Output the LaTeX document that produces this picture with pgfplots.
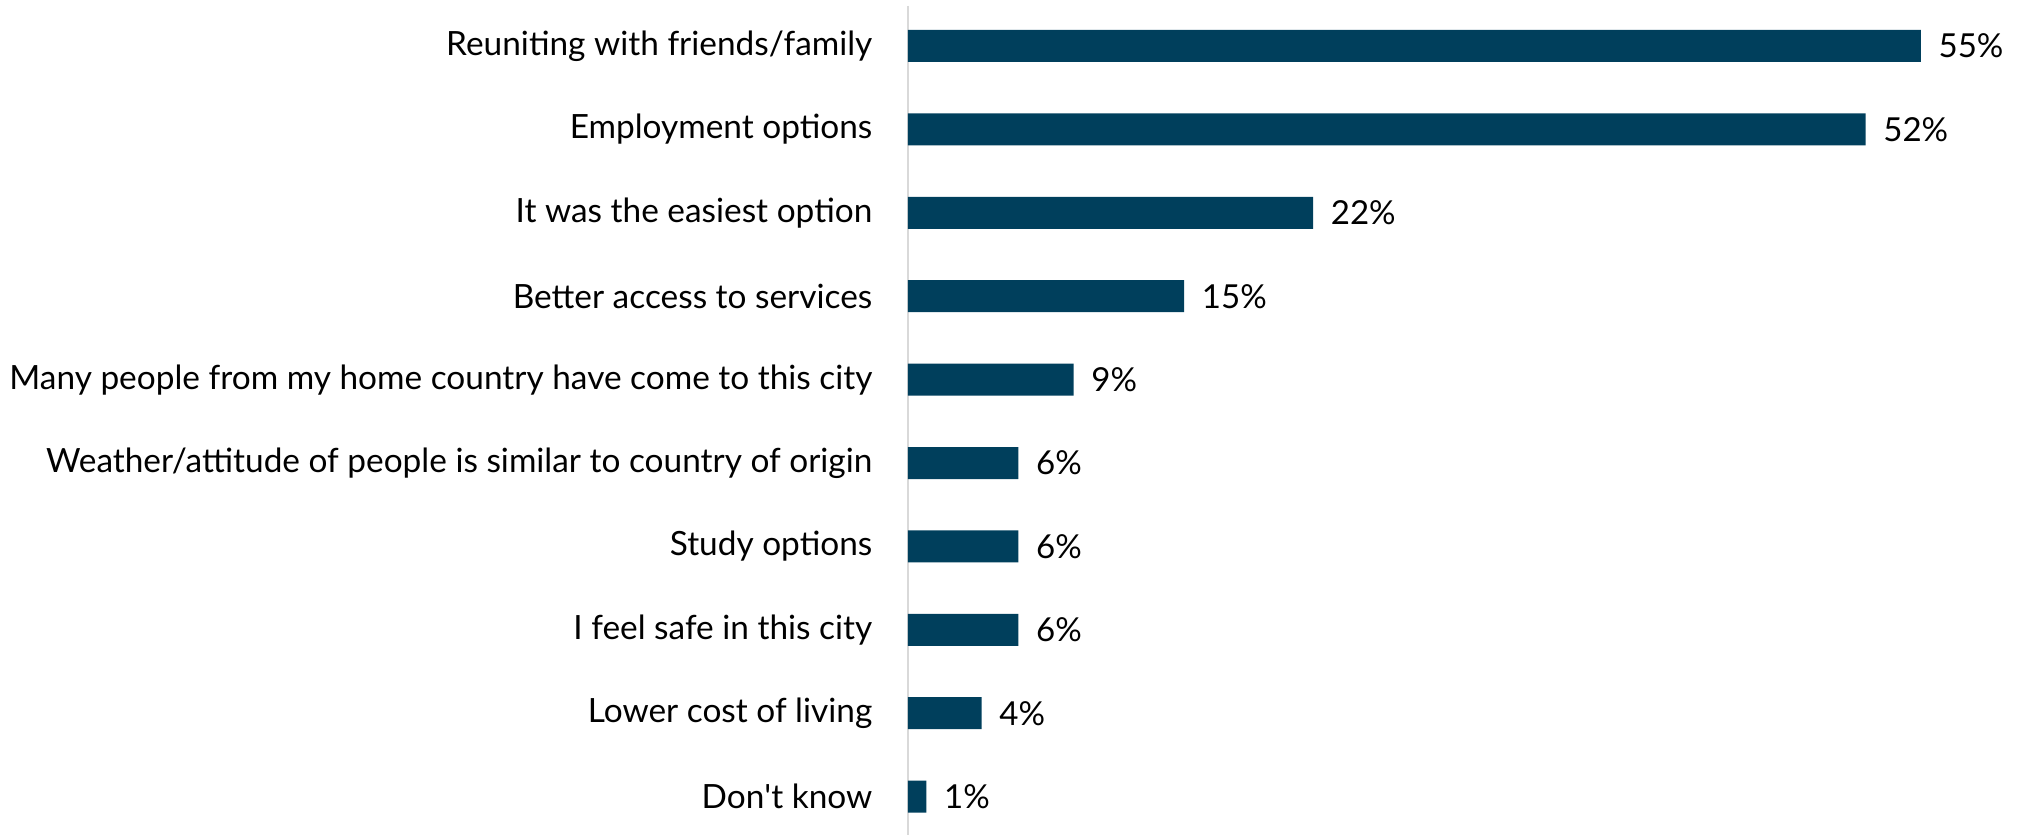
\documentclass[border=0pt]{standalone}
\usepackage{pgfplots}
\pgfplotsset{compat=1.18}
\usepackage{fontspec}
\setmainfont{Lato}
\definecolor{barblue}{HTML}{003F5C}
\definecolor{axisgrey}{HTML}{D9D9D9}
\begin{document}
\begin{tikzpicture}
\path[use as bounding box] (-9.08cm,0) rectangle (11.15cm,8.35cm);
\begin{axis}[
  at={(0,0)}, anchor=south west,
  scale only axis,
  width=11.05cm, height=8.29cm,
  xbar, bar width=0.32cm,
  xmin=0, xmax=60,
  ymin=-0.48, ymax=9.46,
  y dir=reverse,
  hide x axis,
  axis y line*=left,
  y axis line style={draw=axisgrey, line width=0.8pt},
  ytick={0,...,9},
  yticklabels={Reuniting with friends/family, Employment options, It was the easiest option, Better access to services, Many people from my home country have come to this city, Weather/attitude of people is similar to country of origin, Study options, I feel safe in this city, Lower cost of living, Don\textquotesingle t know},
  ytick style={draw=none},
  yticklabel style={font=\fontsize{9.5}{11}\selectfont, inner sep=0pt, xshift=-0.2cm, text=black},
  /pgf/number format/assume math mode=true,
  nodes near coords={\pgfmathprintnumber{\pgfplotspointmeta}\%},
  nodes near coords style={font=\fontsize{9.4}{11}\selectfont, inner sep=0pt, xshift=0.17cm, text=black, anchor=west},
  point meta=explicit,
  clip=false,
]
\addplot[fill=barblue, draw=none] table[meta=v] {
x y v
55 0 55
52 1 52
22 2 22
15 3 15
9 4 9
6 5 6
6 6 6
6 7 6
4 8 4
1 9 1
};
\end{axis}
\end{tikzpicture}
\end{document}
